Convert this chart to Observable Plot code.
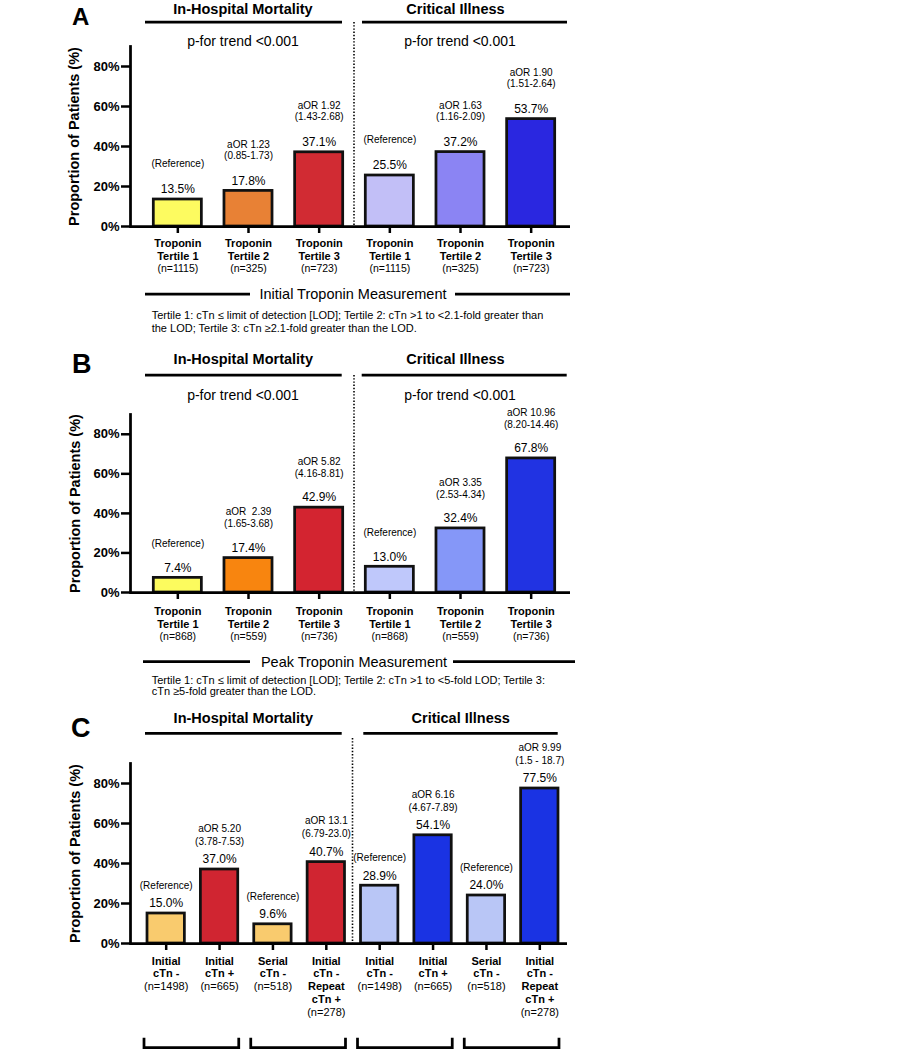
<!DOCTYPE html>
<html><head><meta charset="utf-8">
<script src="https://cdn.jsdelivr.net/npm/d3@7"></script>
<script src="https://cdn.jsdelivr.net/npm/@observablehq/plot@0.6"></script>
<style>
body{margin:0;background:#fff;}
#root{position:relative;width:898px;height:1050px;overflow:hidden;font-family:"Liberation Sans",Arial,Helvetica,sans-serif;}
.panel{position:absolute;left:0;}
</style>
</head><body><div id="root"></div>
<script>
// ---------- data ----------
const groups = ["In-Hospital Mortality", "Critical Illness"];
const trendText = ["p-for trend <0.001", "p-for trend <0.001"];
const yTicks = [0, 20, 40, 60, 80];

// Panel A: initial troponin tertiles
const labelsA = ["Troponin\nTertile 1", "Troponin\nTertile 2", "Troponin\nTertile 3", "Troponin\nTertile 1", "Troponin\nTertile 2", "Troponin\nTertile 3"];
const nA = [1115, 325, 723, 1115, 325, 723];
const valuesA = [13.5, 17.8, 37.1, 25.5, 37.2, 53.7];
const aorA = [null, "aOR 1.23", "aOR 1.92", null, "aOR 1.63", "aOR 1.90"];
const ciA = ["(Reference)", "(0.85-1.73)", "(1.43-2.68)", "(Reference)", "(1.16-2.09)", "(1.51-2.64)"];
const colorsA = ["#fdfb60", "#e88135", "#d12b33", "#c2bff7", "#8b84f3", "#2a27e0"];
const measureA = "Initial Troponin Measurement";
const noteA = ["Tertile 1: cTn \u2264 limit of detection [LOD]; Tertile 2: cTn >1 to <2.1-fold greater than",
               "the LOD; Tertile 3: cTn \u22652.1-fold greater than the LOD."];

// Panel B: peak troponin tertiles
const labelsB = labelsA;
const nB = [868, 559, 736, 868, 559, 736];
const valuesB = [7.4, 17.4, 42.9, 13.0, 32.4, 67.8];
const aorB = [null, "aOR  2.39", "aOR 5.82", null, "aOR 3.35", "aOR 10.96"];
const ciB = ["(Reference)", "(1.65-3.68)", "(4.16-8.81)", "(Reference)", "(2.53-4.34)", "(8.20-14.46)"];
const colorsB = ["#fcfb5e", "#f8850f", "#d32430", "#bfc8fb", "#8597f8", "#2133e2"];
const measureB = "Peak Troponin Measurement";
const noteB = ["Tertile 1: cTn \u2264 limit of detection [LOD]; Tertile 2: cTn >1 to <5-fold LOD; Tertile 3:",
               "cTn \u22655-fold greater than the LOD."];

// Panel C: initial vs serial
const labelsC = ["Initial\ncTn -", "Initial\ncTn +", "Serial\ncTn -", "Initial\ncTn -\nRepeat\ncTn +",
                 "Initial\ncTn -", "Initial\ncTn +", "Serial\ncTn -", "Initial\ncTn -\nRepeat\ncTn +"];
const nC = [1498, 665, 518, 278, 1498, 665, 518, 278];
const valuesC = [15.0, 37.0, 9.6, 40.7, 28.9, 54.1, 24.0, 77.5];
const aorC = [null, "aOR 5.20", null, "aOR 13.1", null, "aOR 6.16", null, "aOR 9.99"];
const ciC = ["(Reference)", "(3.78-7.53)", "(Reference)", "(6.79-23.0)", "(Reference)", "(4.67-7.89)", "(Reference)", "(1.5 - 18.7)"];
const colorsC = ["#f9cb6e", "#d02531", "#f9cb6e", "#d02531", "#b9c6f6", "#1a33e3", "#b9c6f6", "#1a33e3"];

// ---------- layout (pixels) ----------
const FONT = '"Liberation Sans", Arial, Helvetica, sans-serif';
const layouts = {
  A: {top: 0, height: 340, mTop: 46, zero: 226, axisRight: 570, xRange: [142, 566], pad: 0.32,
      letter: "A", letterPos: [72, 25], letterSize: 24,
      headBase: 13.7, headLineY: 22, hLeft: [145, 342], hRight: [362, 567], headX: [243, 455.5],
      trendBase: 46.2, trendX: [243, 460], divTop: 22,
      firstBase: 18.6, lh: 13, nGap: 14, tickSize: 11, nSize: 10.5,
      ciDy: -35.5, aorDy: -46.5, ylabDx: -56,
      measure: {x: 353, base: 299, lineY: 294, seg: [[145, 250], [455, 570]]},
      note: {x: 151.7, bases: [318.5, 331.5]}},
  B: {top: 340, height: 360, mTop: 74, zero: 252, axisRight: 570, xRange: [142, 566], pad: 0.32,
      letter: "B", letterPos: [72, 33], letterSize: 27,
      headBase: 24.4, headLineY: 35, hLeft: [145, 341.7], hRight: [361.7, 566.7], headX: [243.3, 455.5],
      trendBase: 59.5, trendX: [243, 460], divTop: 35,
      firstBase: 20.7, lh: 13.5, nGap: 13.5, tickSize: 11, nSize: 10.5,
      ciDy: -34, aorDy: -46, ylabDx: -55,
      measure: {x: 354, base: 326.5, lineY: 321.7, seg: [[143, 250], [453, 575]]},
      note: {x: 151.7, bases: [344.3, 354.5]}},
  C: {top: 700, height: 350, mTop: 63, zero: 243, axisRight: 567, xRange: [139, 566], pad: 0.3,
      letter: "C", letterPos: [71, 37], letterSize: 27,
      headBase: 22.7, headLineY: 33.3, hLeft: [145, 341.7], hRight: [363.3, 557.7], headX: [243.3, 460.7],
      trendBase: null, divTop: 38,
      firstBase: 20, lh: 12.7, nGap: 14, tickSize: 11, nSize: 11,
      ciDy: -28, aorDy: -41, ylabDx: -55,
      brackets: {top: 337.7, bottom: 347.5}}
};

function makePanel(L, labels, ns, values, aors, cis, colors, extra) {
  const data = values.map((v, i) => ({
    key: "k" + i, value: v, label: labels[i], n: `(n=${ns[i]})`,
    aor: aors[i], ci: cis[i], color: colors[i], lines: labels[i].split("\n").length
  }));
  const keys = data.map(d => d.key);
  const lineCounts = Array.from(new Set(data.map(d => d.lines)));
  const tickDy = L.firstBase - 0.71 * L.tickSize;
  const nMarks = lineCounts.map(c => Plot.text(data.filter(d => d.lines === c), {
    x: "key", frameAnchor: "bottom", lineAnchor: "top", text: "n", fontSize: L.nSize,
    dy: L.firstBase + (c - 1) * L.lh + L.nGap - 0.71 * L.nSize
  }));

  const plot = Plot.plot({
    width: 898, height: L.height,
    marginTop: L.mTop, marginBottom: L.height - L.zero, marginLeft: 130, marginRight: 898 - L.axisRight,
    style: {fontFamily: FONT, color: "#000", background: "transparent", overflow: "visible"},
    x: {domain: keys, range: L.xRange, paddingInner: L.pad, paddingOuter: L.pad / 2, round: false},
    y: {domain: [0, 90]},
    color: {type: "identity"},
    marks: [
      Plot.barY(data, {x: "key", y: "value", fill: "color", stroke: "#111", strokeWidth: 2.75}),
      Plot.ruleY([0], {strokeWidth: 2.75}),
      Plot.frame({anchor: "left", strokeWidth: 2.75}),
      Plot.axisY({ticks: yTicks, tickFormat: d => `${d}%`, tickSize: 9, tickPadding: 2, fontSize: 13,
                  fontWeight: "bold", strokeWidth: 2.5, label: null}),
      Plot.axisX({tickSize: 7, tickFormat: () => "", strokeWidth: 2.5, label: null}),
      Plot.text(data, {x: "key", y: "value", text: d => d.value.toFixed(1) + "%", dy: -10, fontSize: 12}),
      Plot.text(data, {x: "key", y: "value", text: "ci", dy: L.ciDy, fontSize: 10}),
      Plot.text(data.filter(d => d.aor), {x: "key", y: "value", text: "aor", dy: L.aorDy, fontSize: 10}),
      Plot.text(data, {x: "key", frameAnchor: "bottom", lineAnchor: "top", text: "label", fontWeight: "bold",
                       fontSize: L.tickSize, lineHeight: L.lh / L.tickSize, dy: tickDy}),
      ...nMarks,
      Plot.text(["Proportion of Patients (%)"], {frameAnchor: "left", textAnchor: "middle", rotate: -90,
                dx: L.ylabDx, fontWeight: "bold", fontSize: 14.5})
    ]
  });

  // decorations (header, dividers, group lines, footnotes)
  const xb = d3.scaleBand(keys, L.xRange).paddingInner(L.pad).paddingOuter(L.pad / 2);
  const bw = xb.bandwidth();
  const half = keys.length / 2;
  const divX = (xb(keys[half - 1]) + bw + xb(keys[half])) / 2;
  const svg = d3.select(plot);
  const g = svg.append("g").attr("font-family", FONT).attr("text-anchor", "start").attr("fill", "#000");

  g.append("text").attr("x", L.letterPos[0]).attr("y", L.letterPos[1]).attr("font-size", L.letterSize)
    .attr("font-weight", "bold").attr("text-anchor", "start").text(L.letter);

  [L.hLeft, L.hRight].forEach((seg, i) => {
    g.append("line").attr("x1", seg[0]).attr("x2", seg[1]).attr("y1", L.headLineY).attr("y2", L.headLineY)
      .attr("stroke", "#000").attr("stroke-width", 2.75);
    g.append("text").attr("x", L.headX[i]).attr("y", L.headBase).attr("text-anchor", "middle")
      .attr("font-size", 14.5).attr("font-weight", "bold").text(groups[i]);
    if (L.trendBase != null) {
      g.append("text").attr("x", L.trendX[i]).attr("y", L.trendBase).attr("text-anchor", "middle")
        .attr("font-size", 14).text(trendText[i]);
    }
  });

  g.append("line").attr("x1", divX).attr("x2", divX).attr("y1", L.divTop).attr("y2", L.zero)
    .attr("stroke", "#000").attr("stroke-width", 1.6).attr("stroke-dasharray", "1.4,1.8");

  if (extra && extra.measure) {
    const M = L.measure;
    M.seg.forEach(s => g.append("line").attr("x1", s[0]).attr("x2", s[1]).attr("y1", M.lineY).attr("y2", M.lineY)
      .attr("stroke", "#000").attr("stroke-width", 2.75));
    g.append("text").attr("x", M.x).attr("y", M.base).attr("text-anchor", "middle").attr("font-size", 14.5)
      .text(extra.measure);
    extra.note.forEach((line, i) => g.append("text").attr("x", L.note.x).attr("y", L.note.bases[i])
      .attr("text-anchor", "start").attr("font-size", 11).text(line));
  }

  if (L.brackets) {
    const B = L.brackets;
    for (let i = 0; i < keys.length; i += 2) {
      const x1 = xb(keys[i]) - 3, x2 = xb(keys[i + 1]) + bw + 1;
      g.append("path").attr("d", `M${x1},${B.top}V${B.bottom}H${x2}V${B.top}`)
        .attr("fill", "none").attr("stroke", "#000").attr("stroke-width", 2.75);
    }
  }

  const wrap = document.createElement("div");
  wrap.className = "panel";
  wrap.style.top = L.top + "px";
  wrap.appendChild(plot);
  document.getElementById("root").appendChild(wrap);
}

makePanel(layouts.A, labelsA, nA, valuesA, aorA, ciA, colorsA, {measure: measureA, note: noteA});
makePanel(layouts.B, labelsB, nB, valuesB, aorB, ciB, colorsB, {measure: measureB, note: noteB});
makePanel(layouts.C, labelsC, nC, valuesC, aorC, ciC, colorsC, null);
</script></body></html>
